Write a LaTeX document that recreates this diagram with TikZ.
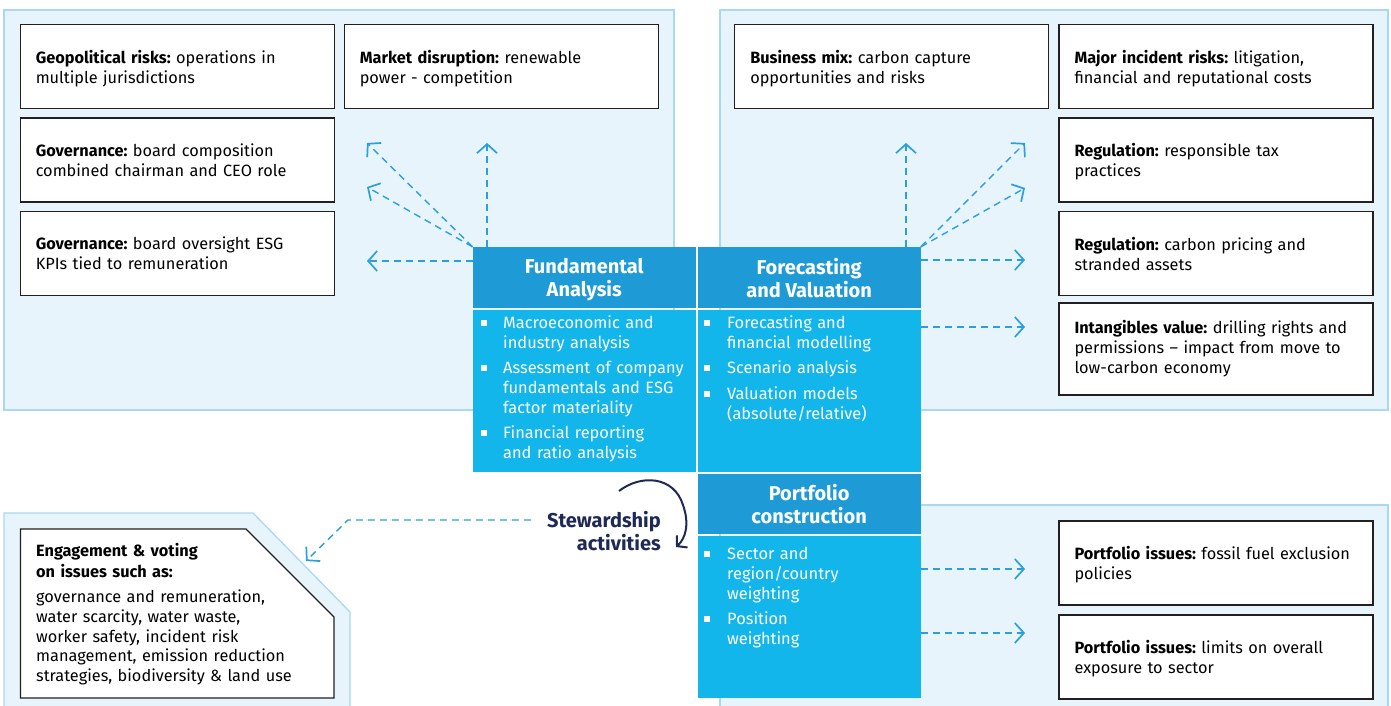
\documentclass[tikz,border=0pt]{standalone}
\usepackage{fontspec}
\setmainfont{Fira Sans}
\usetikzlibrary{arrows.meta}
\definecolor{panel}{HTML}{E8F4FC}
\definecolor{panelline}{HTML}{A9D8F2}
\definecolor{headblue}{HTML}{1E9BD7}
\definecolor{bodyblue}{HTML}{13B6EB}
\definecolor{arrblue}{HTML}{2B9FDA}
\definecolor{navy}{HTML}{1E2A55}
\definecolor{boxline}{HTML}{231F20}
\newcommand\tstrut{\rule{0pt}{16pt}}
\tikzset{
  panelbox/.style={fill=panel, draw=panelline, line width=1.3pt},
  wbox/.style={draw=boxline, line width=1.3pt, fill=white, minimum height=84pt,
    text width=283pt, inner xsep=15.5pt, inner ysep=0pt, align=left,
    font=\fontsize{16.3}{20}\selectfont, text=black},
  headbox/.style={fill=headblue, text=white, minimum width=223pt, inner sep=0pt,
    align=center, text depth=0pt, font=\fontsize{20}{23}\selectfont\bfseries},
  bodybox/.style={fill=bodyblue, minimum width=223pt, inner sep=0pt},
  itemtext/.style={text=white, anchor=base west, inner sep=0pt, align=left,
    text width=195pt, font=\fontsize{16.4}{20}\selectfont},
  bulletsq/.style={fill=white, minimum size=6pt, inner sep=0pt},
  darr/.style={draw=arrblue, line width=1.4pt, dash pattern=on 7pt off 5pt,
    -{Straight Barb[length=9pt,width=20pt,line width=1.7pt]}},
  navyarr/.style={draw=navy, line width=2pt,
    -{Straight Barb[length=7pt,width=16pt,line width=2pt]}},
}
\begin{document}
\frenchspacing
\begin{tikzpicture}[x=1pt,y=-1pt]
\useasboundingbox (0,0) rectangle (1391,706);
\fill[white] (0,0) rectangle (1391,706);

% panels
\draw[panelbox] (4,10) rectangle (674,410);
\draw[panelbox] (720,10) rectangle (1388,410);
\draw[panelbox] (720,505) rectangle (1388,720);
\draw[panelbox] (4,720) -- (4,513) -- (253,513) -- (350,612) -- (350,720);

% engagement box
\draw[draw=boxline, line width=1.3pt, fill=white] (20.5,698) -- (20.5,529) -- (246,529) -- (334,617) -- (334,698) -- cycle;
\node[anchor=base west, inner sep=0pt, align=left, text width=300pt,
  font=\fontsize{16.3}{21}\selectfont\bfseries] (eng) at (36,556.5)
  {Engagement \& voting\\on issues such as:};
\node[anchor=base west, inner sep=0pt, align=left, text width=300pt,
  font=\fontsize{16.3}{19.8}\selectfont] (engl) at (36,602.5)
  {governance and remuneration,\\water scarcity, water waste,\\worker safety, incident risk\\management, emission reduction\\strategies, biodiversity \& land use};

% white boxes top-left
\node[wbox] (geo) at (177.25,66.75) {\tstrut\textbf{Geopolitical risks:} operations in\\multiple jurisdictions};
\node[wbox] (mkt) at (501.25,66.75) {\tstrut\textbf{Market disruption:} renewable\\power - competition};
\node[wbox] (gov1) at (177.25,160) {\textbf{Governance:} board composition\\combined chairman and CEO role};
\node[wbox] (gov2) at (177.25,253.5) {\textbf{Governance:} board oversight ESG\\KPIs tied to remuneration};

% white boxes top-right
\node[wbox] (bus) at (891.75,66.75) {\tstrut\textbf{Business mix:} carbon capture\\opportunities and risks};
\node[wbox] (maj) at (1216,66.75) {\tstrut\textbf{Major incident risks:} litigation,\\financial and reputational costs};
\node[wbox] (reg1) at (1216,160) {\tstrut\textbf{Regulation:} responsible tax\\practices};
\node[wbox] (reg2) at (1216,253.5) {\textbf{Regulation:} carbon pricing and\\stranded assets};
\node[wbox, minimum height=92pt] (intg) at (1216,349) {\textbf{Intangibles value:} drilling rights and\\permissions -- impact from move to\\low-carbon economy};

% white boxes bottom-right
\node[wbox] (pf1) at (1216,563) {\tstrut\textbf{Portfolio issues:} fossil fuel exclusion\\policies};
\node[wbox] (pf2) at (1216,657) {\tstrut\textbf{Portfolio issues:} limits on overall\\exposure to sector};

% central boxes
\node[headbox, minimum height=61pt] (fah) at (584.2,277.5) {Fundamental\\Analysis};
\node[bodybox, minimum height=162pt] (fab) at (584.2,391) {};
\node[headbox, minimum height=61pt, minimum width=223.2pt] (fvh) at (809.1,277.5) {Forecasting\\and Valuation};
\node[bodybox, minimum height=162pt, minimum width=223.2pt] (fvb) at (809.1,391) {};
\node[headbox, minimum height=60pt, minimum width=223.2pt] (pch) at (809.1,504) {Portfolio\\construction};
\node[bodybox, minimum height=162pt, minimum width=223.2pt] (pcb) at (809.1,617) {};

% bullets and items: Fundamental
\node[bulletsq] (b1) at (484,323) {};
\node[itemtext] (i1) at (503,328.5) {Macroeconomic and\\industry analysis};
\node[bulletsq] (b2) at (484,368) {};
\node[itemtext] (i2) at (503,373.5) {Assessment of company\\fundamentals and ESG\\factor materiality};
\node[bulletsq] (b3) at (484,433) {};
\node[itemtext] (i3) at (503,438.5) {Financial reporting\\and ratio analysis};
% Forecasting
\node[bulletsq] (b4) at (707,323) {};
\node[itemtext] (i4) at (727,328.5) {Forecasting and\\financial modelling};
\node[bulletsq] (b5) at (707,368) {};
\node[itemtext] (i5) at (727,373.5) {Scenario analysis};
\node[bulletsq] (b6) at (707,394) {};
\node[itemtext] (i6) at (727,399.5) {Valuation models\\(absolute/relative)};
% Portfolio
\node[bulletsq] (b7) at (707,554) {};
\node[itemtext] (i7) at (727,559.5) {Sector and\\region/country\\weighting};
\node[bulletsq] (b8) at (707,619) {};
\node[itemtext] (i8) at (727,624.5) {Position\\weighting};

% arrow end coordinates
\coordinate (tl1) at (367,143);
\coordinate (tl2) at (367,187);
\coordinate (tl3) at (367,261);
\coordinate (tl4) at (487,143);
\coordinate (tr1) at (1025,143);
\coordinate (tr2) at (1025,188);
\coordinate (tr3) at (1025,260);
\coordinate (tr4) at (906,143);
\coordinate (tr5) at (1025,327);
\coordinate (br1) at (1025,569);
\coordinate (br2) at (1025,633);

\draw[darr] (fah.north west) -- (tl1);
\draw[darr] (fah.north west) -- (tl2);
\draw[darr] (fah.west |- tl3) -- (tl3);
\draw[darr] (tl4 |- fah.north) -- (tl4);
\draw[darr] (fvh.north east) -- (tr1);
\draw[darr] (fvh.north east) -- (tr2);
\draw[darr] (fvh.east |- tr3) -- (tr3);
\draw[darr] (tr4 |- fvh.north) -- (tr4);
\draw[darr] (fvb.east |- tr5) -- (tr5);
\draw[darr] (pcb.east |- br1) -- (br1);
\draw[darr] (pcb.east |- br2) -- (br2);

% stewardship
\node[anchor=base east, inner sep=0pt, align=right, text=navy,
  font=\fontsize{20}{23}\selectfont\bfseries] (stew) at (661,550)
  {Stewardship\\activities};
\coordinate (sb) at (348,520);
\coordinate (se) at (306,561);
\draw[darr, shorten <=16pt] (stew.west |- sb) -- (sb) -- (se);

\coordinate (ca) at (619,491);
\coordinate (cd) at (676,547);
\draw[navyarr] (ca) .. controls (641,474) and (674,476) .. (683,505)
  .. controls (690,525) and (685,539) .. (cd);
\end{tikzpicture}
\end{document}
